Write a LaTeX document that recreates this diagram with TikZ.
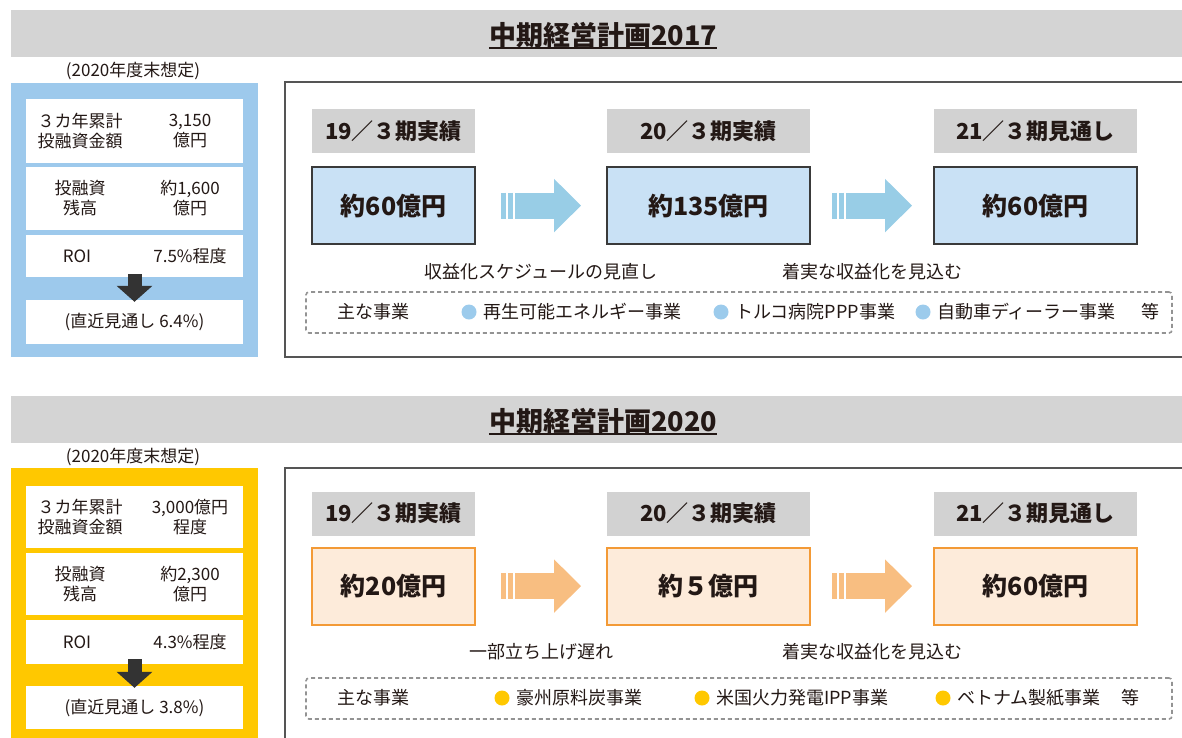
\documentclass[tikz,border=0pt]{standalone}
\usepackage{fontspec}
\setmainfont{Noto Sans CJK JP}
\usetikzlibrary{calc,positioning,arrows.meta}
\definecolor{txtDark}{HTML}{231815}
\definecolor{barGray}{HTML}{D4D4D4}
\definecolor{hdGray}{HTML}{D2D2D2}
\definecolor{frameGray}{HTML}{555555}
\definecolor{boxDark}{HTML}{3A3A3A}
\definecolor{arrDark}{HTML}{333333}
\definecolor{frameBlue}{HTML}{9DC9EC}
\definecolor{fillBlue}{HTML}{C9E1F5}
\definecolor{arrBlue}{HTML}{98CDE6}
\definecolor{dotBlue}{HTML}{9CCBEC}
\definecolor{frameYel}{HTML}{FFC800}
\definecolor{fillOra}{HTML}{FDEBDA}
\definecolor{lineOra}{HTML}{F39A36}
\definecolor{arrOra}{HTML}{F8BE81}
\tikzset{
  bar/.style={fill=barGray, minimum width=1180pt, minimum height=47pt, anchor=north west},
  ttl/.style={font=\bfseries\fontsize{27}{32}\selectfont, anchor=base},
  yearnote/.style={font=\fontsize{17}{20}\selectfont},
  cell/.style={fill=white, minimum width=217pt},
  celltxt/.style={font=\fontsize{17}{20}\selectfont, align=center},
  period/.style={fill=hdGray, minimum height=44pt, font=\bfseries\fontsize{22}{26}\selectfont},
  amount/.style={minimum height=77pt, line width=1.8pt, font=\bfseries\fontsize{25}{30}\selectfont},
  note/.style={font=\fontsize{18}{22}\selectfont},
  bizbox/.style={draw=gray!85, dash pattern=on 4pt off 3pt, line width=1.6pt, rounded corners=3pt,
                 minimum width=866pt, minimum height=41pt},
  biz/.style={font=\fontsize{18}{22}\selectfont, anchor=west},
  downarrow/.style={arrDark, line width=14pt, -{Triangle[width=35pt,length=16pt]}},
  fatarrow/.style={line width=26pt, -{Triangle[width=52pt,length=27pt]}},
}

\begin{document}
\begin{tikzpicture}[x=1pt,y=-1pt,every node/.style={inner sep=0pt,text=txtDark}]
  \useasboundingbox (0,0) rectangle (1182,737);
  \clip (0,0) rectangle (1182,737);

  % ---------- 2017 ----------
  \node[bar] (bar1) at (11,10) {};
  \node[ttl] (t1) at (603,45) {中期経営計画2017};
  \draw[txtDark, line width=2pt] ($(t1.base west)+(0,3)$) -- ($(t1.base east)+(0,3)$);

  \node[yearnote] (y1) at (133,71) {(2020年度末想定)};
  \fill[frameBlue] (11,83) rectangle (258,357);
  \node[cell, minimum height=64pt] (a1) at (134.5,131) {};
  \node[cell, minimum height=63pt] (a2) at (134.5,198.5) {};
  \node[cell, minimum height=42pt] (a3) at (134.5,256) {};
  \node[cell, minimum height=44pt] (a4) at (134.5,322) {};
  \node[celltxt] at ($(a1)+(-54.5,0)$) {３カ年累計\\投融資金額};
  \node[celltxt] at ($(a1)+(55.5,0)$) {3,150\\億円};
  \node[celltxt] at ($(a2)+(-54.5,0)$) {投融資\\残高};
  \node[celltxt] at ($(a2)+(55.5,0)$) {約1,600\\億円};
  \node[celltxt] at ($(a3)+(-57.5,0)$) {ROI};
  \node[celltxt] at ($(a3)+(55.5,0)$) {7.5\%程度};
  \node[celltxt] at (a4) {(直近見通し 6.4\%)};
  \draw[downarrow] ($(a3.south)+(0,-3)$) -- ($(a4.north)+(0,2)$);

  \draw[frameGray, line width=1.6pt] (285,82) rectangle (1195,357);
  \node[period, minimum width=163pt] (h1) at (393.5,131) {19／３期実績};
  \node[period, minimum width=203pt] (h2) at (708.5,131) {20／３期実績};
  \node[period, minimum width=203pt] (h3) at (1035.5,131) {21／３期見通し};
  \node[amount, draw=boxDark, fill=fillBlue, minimum width=163pt, below=13pt of h1] (v1) {約60億円};
  \node[amount, draw=boxDark, fill=fillBlue, minimum width=203pt, below=13pt of h2] (v2) {約135億円};
  \node[amount, draw=boxDark, fill=fillBlue, minimum width=203pt, below=13pt of h3] (v3) {約60億円};

  \coordinate (m1) at ($(v1.east)!.5!(v2.west)$);
  \coordinate (m2) at ($(v2.east)!.5!(v3.west)$);
  \foreach \m in {m1,m2} {
    \draw[arrBlue, line width=5pt] ($(\m)+(-37.5,-13)$) -- ($(\m)+(-37.5,13)$)
                                   ($(\m)+(-30.5,-13)$) -- ($(\m)+(-30.5,13)$);
    \draw[fatarrow, arrBlue] ($(\m)+(-26,0)$) -- ($(\m)+(40,0)$);
  }
  \node[note] (n1) at ($(m1)+(0,66)$) {収益化スケジュールの見直し};
  \node[note] (n2) at ($(m2)+(0,66)$) {着実な収益化を見込む};

  \node[bizbox] (b1) at (739,312.5) {};
  \node[biz] (k1) at (337,312) {主な事業};
  \foreach \x/\txt in {483/再生可能エネルギー事業, 735/トルコ病院PPP事業, 937/自動車ディーラー事業} {
    \fill[dotBlue] (\x-14,312) circle (7.5pt);
    \node[biz] (i\x) at (\x,312) {\txt};
  }
  \node[biz] (e1) at (1141,312) {等};

  % ---------- 2020 ----------
  \node[bar] (bar2) at (11,396) {};
  \node[ttl] (t2) at (603,431) {中期経営計画2020};
  \draw[txtDark, line width=2pt] ($(t2.base west)+(0,3)$) -- ($(t2.base east)+(0,3)$);

  \node[yearnote] (y2) at (133,457) {(2020年度末想定)};
  \fill[frameYel] (11,468) rectangle (258,750);
  \node[cell, minimum height=62pt] (c1) at (134.5,517) {};
  \node[cell, minimum height=62pt] (c2) at (134.5,584) {};
  \node[cell, minimum height=44pt] (c3) at (134.5,642) {};
  \node[cell, minimum height=43pt] (c4) at (134.5,707.5) {};
  \node[celltxt] at ($(c1)+(-54.5,0)$) {３カ年累計\\投融資金額};
  \node[celltxt] at ($(c1)+(55.5,0)$) {3,000億円\\程度};
  \node[celltxt] at ($(c2)+(-54.5,0)$) {投融資\\残高};
  \node[celltxt] at ($(c2)+(55.5,0)$) {約2,300\\億円};
  \node[celltxt] at ($(c3)+(-57.5,0)$) {ROI};
  \node[celltxt] at ($(c3)+(55.5,0)$) {4.3\%程度};
  \node[celltxt] at (c4) {(直近見通し 3.8\%)};
  \draw[downarrow] ($(c3.south)+(0,-5)$) -- ($(c4.north)+(0,2)$);

  \draw[frameGray, line width=1.6pt] (285,468) rectangle (1195,760);
  \node[period, minimum width=163pt] (g1) at (393.5,513.5) {19／３期実績};
  \node[period, minimum width=203pt] (g2) at (708.5,513.5) {20／３期実績};
  \node[period, minimum width=203pt] (g3) at (1035.5,513.5) {21／３期見通し};
  \node[amount, draw=lineOra, fill=fillOra, minimum width=163pt, below=11pt of g1] (w1) {約20億円};
  \node[amount, draw=lineOra, fill=fillOra, minimum width=203pt, below=11pt of g2] (w2) {約５億円};
  \node[amount, draw=lineOra, fill=fillOra, minimum width=203pt, below=11pt of g3] (w3) {約60億円};

  \coordinate (p1) at ($(w1.east)!.5!(w2.west)$);
  \coordinate (p2) at ($(w2.east)!.5!(w3.west)$);
  \foreach \m in {p1,p2} {
    \draw[arrOra, line width=5pt] ($(\m)+(-37.5,-13)$) -- ($(\m)+(-37.5,13)$)
                                  ($(\m)+(-30.5,-13)$) -- ($(\m)+(-30.5,13)$);
    \draw[fatarrow, arrOra] ($(\m)+(-26,0)$) -- ($(\m)+(40,0)$);
  }
  \node[note] (o1) at ($(p1)+(0,66)$) {一部立ち上げ遅れ};
  \node[note] (o2) at ($(p2)+(0,66)$) {着実な収益化を見込む};

  \node[bizbox] (b2) at (739,698.5) {};
  \node[biz] (k2) at (337,698) {主な事業};
  \foreach \x/\txt in {516/豪州原料炭事業, 716/米国火力発電IPP事業, 957/ベトナム製紙事業} {
    \fill[frameYel] (\x-14,698) circle (7.5pt);
    \node[biz] (j\x) at (\x,698) {\txt};
  }
  \node[biz] (e2) at (1121,698) {等};
\end{tikzpicture}
\end{document}
